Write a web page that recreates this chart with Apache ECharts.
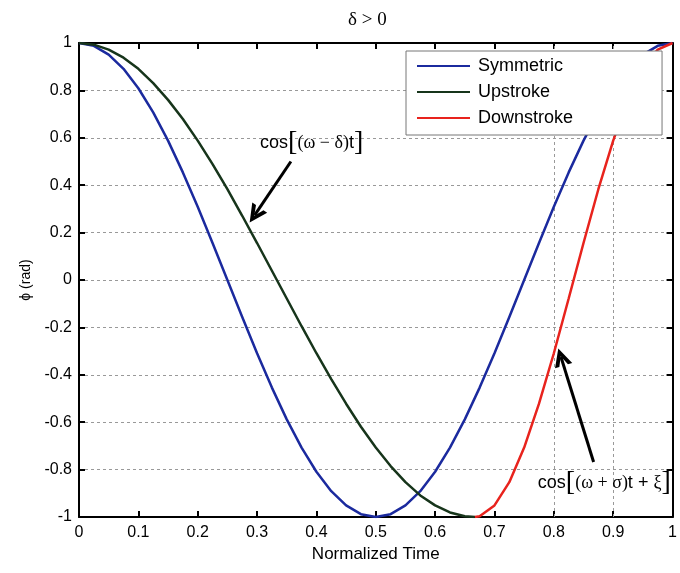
<!DOCTYPE html>
<html>
<head>
<meta charset="utf-8">
<script src="https://cdn.jsdelivr.net/npm/echarts@6/dist/echarts.min.js"></script>
<style>html,body{margin:0;padding:0;background:#fff}#c{width:680px;height:573px}</style>
</head>
<body>
<div id="c"></div>
<script>
const titleText = 'δ > 0';
const xName = 'Normalized Time';
const yName = 'ϕ (rad)';
const seriesNames = ['Symmetric', 'Upstroke', 'Downstroke'];

const timeSym = [0,0.025,0.05,0.075,0.1,0.125,0.15,0.175,0.2,0.225,0.25,0.275,0.3,0.325,0.35,0.375,0.4,0.425,0.45,0.475,0.5,0.525,0.55,0.575,0.6,0.625,0.65,0.675,0.7,0.725,0.75,0.775,0.8,0.825,0.85,0.875,0.9,0.925,0.95,0.975,1];
const phiSym = [1,0.988,0.951,0.891,0.809,0.707,0.588,0.454,0.309,0.156,0,-0.156,-0.309,-0.454,-0.588,-0.707,-0.809,-0.891,-0.951,-0.988,-1,-0.988,-0.951,-0.891,-0.809,-0.707,-0.588,-0.454,-0.309,-0.156,0,0.156,0.309,0.454,0.588,0.707,0.809,0.891,0.951,0.988,1];

const timeUp = [0,0.025,0.05,0.075,0.1,0.125,0.15,0.175,0.2,0.225,0.25,0.275,0.3,0.325,0.35,0.375,0.4,0.425,0.45,0.475,0.5,0.525,0.55,0.575,0.6,0.625,0.65,0.667];
const phiUp = [1,0.993,0.972,0.938,0.891,0.831,0.760,0.679,0.588,0.489,0.383,0.271,0.156,0.039,-0.078,-0.195,-0.309,-0.418,-0.522,-0.619,-0.707,-0.785,-0.853,-0.909,-0.951,-0.981,-0.997,-1];

const timeDown = [0.667,0.675,0.7,0.725,0.75,0.775,0.8,0.825,0.85,0.875,0.9,0.925,0.95,0.975,1];
const phiDown = [-1,-0.997,-0.951,-0.853,-0.707,-0.522,-0.309,-0.078,0.156,0.383,0.588,0.760,0.891,0.972,1];

const xTicks = [0,0.1,0.2,0.3,0.4,0.5,0.6,0.7,0.8,0.9,1];
const yTicks = [-1,-0.8,-0.6,-0.4,-0.2,0,0.2,0.4,0.6,0.8,1];
const visibleXGrid = [0.8, 0.9];

// annotation anchors (data coordinates)
const arrow1 = [[0.357, 0.50], [0.296, 0.274]];
const arrow2 = [[0.867, -0.768], [0.812, -0.325]];
const label1 = [0.392, 0.578];
const label2 = [0.885, -0.857];

const pair = (xs, ys) => xs.map((x, i) => [x, ys[i]]);

const chart = echarts.init(document.getElementById('c'), null, {renderer: 'canvas'});
const sans = 'Liberation Sans, Arial, sans-serif';
const serif = 'Liberation Serif, Times New Roman, serif';
const chevron = 'path://M0,12 L6,0 L12,12 L9,12 L6,5.5 L3,12 Z';

const axisCommon = {type: 'value', min: -1, max: 1, interval: 0.2};
const gridLine = {color: '#999', type: [3, 3], width: 1};

chart.setOption({
  backgroundColor: '#fff',
  animation: false,
  title: {
    text: titleText, left: 343, top: 6,
    textStyle: {fontFamily: serif, fontSize: 19, fontWeight: 'normal', color: '#000'}
  },
  legend: {
    data: seriesNames, orient: 'vertical', left: 406, top: 51,
    icon: 'rect', itemWidth: 53, itemHeight: 2, itemGap: 6,
    padding: [5, 89, 7, 11],
    backgroundColor: '#fff', borderColor: '#777', borderWidth: 1,
    textStyle: {fontFamily: sans, fontSize: 18, lineHeight: 20, color: '#000', padding: [0,0,0,3]},
    selectedMode: false
  },
  grid: {left: 79, right: 7, top: 43, bottom: 56, containLabel: false},
  xAxis: [{
    type: 'value', min: 0, max: 1, interval: 0.1, position: 'bottom',
    name: xName, nameLocation: 'middle', nameGap: 28,
    nameTextStyle: {fontFamily: sans, fontSize: 17, color: '#000'},
    axisLine: {onZero: false, lineStyle: {color: '#000', width: 2}},
    axisTick: {inside: true, length: 6, lineStyle: {color: '#000', width: 2}},
    axisLabel: {fontFamily: sans, fontSize: 16, color: '#000', margin: 8,
      formatter: v => String(+v.toFixed(1))},
    splitLine: {show: false}
  }, {
    type: 'value', min: 0, max: 1, interval: 0.1, position: 'top',
    axisLine: {onZero: false, lineStyle: {color: '#000', width: 2}},
    axisTick: {inside: true, length: 6, lineStyle: {color: '#000', width: 2}},
    axisLabel: {show: false}, splitLine: {show: false}
  }],
  yAxis: [Object.assign({}, axisCommon, {
    position: 'left',
    name: yName, nameLocation: 'middle', nameGap: 44,
    nameTextStyle: {fontFamily: sans, fontSize: 14, color: '#000'},
    axisLine: {onZero: false, lineStyle: {color: '#000', width: 2}},
    axisTick: {inside: true, length: 6, lineStyle: {color: '#000', width: 2}},
    axisLabel: {fontFamily: sans, fontSize: 16, color: '#000', margin: 7,
      formatter: v => String(+v.toFixed(1))},
    splitLine: {show: true, lineStyle: gridLine}
  }), Object.assign({}, axisCommon, {
    position: 'right',
    axisLine: {onZero: false, lineStyle: {color: '#000', width: 2}},
    axisTick: {inside: true, length: 6, lineStyle: {color: '#000', width: 2}},
    axisLabel: {show: false}, splitLine: {show: false}
  })],
  series: [{
    name: seriesNames[0], type: 'line', symbol: 'none',
    data: pair(timeSym, phiSym), lineStyle: {color: '#1b2a9e', width: 2.5}, itemStyle: {color: '#1b2a9e'}, z: 3,
    markLine: {
      silent: true, symbol: ['none', 'none'], label: {show: false}, z: 1,
      lineStyle: gridLine,
      data: visibleXGrid.map(v => ({xAxis: v}))
    }
  }, {
    name: seriesNames[1], type: 'line', symbol: 'none',
    data: pair(timeUp, phiUp), lineStyle: {color: '#17351b', width: 2.5}, itemStyle: {color: '#17351b'}, z: 3,
    markLine: {
      silent: true, symbol: ['none', chevron], symbolSize: [18, 18],
      label: {show: false},
      lineStyle: {color: '#000', width: 3, type: 'solid'},
      data: [
        [{coord: arrow1[0]}, {coord: arrow1[1]}],
        [{coord: arrow2[0]}, {coord: arrow2[1]}]
      ]
    },
    markPoint: {
      silent: true, symbol: 'rect', symbolSize: 1, itemStyle: {color: 'rgba(0,0,0,0)'},
      label: {
        show: true, position: 'inside', color: '#000',
        rich: {
          s: {fontFamily: sans, fontSize: 18, color: '#000'},
          g: {fontFamily: serif, fontSize: 18, color: '#000'},
          b: {fontFamily: serif, fontSize: 28, color: '#000'}
        }
      },
      data: [
        {coord: label1, label: {formatter: '{s|cos}{b|[}{g|(ω − δ)}{s|t}{b|]}'}},
        {coord: label2, label: {formatter: '{s|cos}{b|[}{g|(ω + σ)}{s|t + }{g|ξ}{b|]}'}}
      ]
    }
  }, {
    name: seriesNames[2], type: 'line', symbol: 'none',
    data: pair(timeDown, phiDown), lineStyle: {color: '#e8231d', width: 2.5}, itemStyle: {color: '#e8231d'}, z: 3
  }]
});
</script>
</body>
</html>
